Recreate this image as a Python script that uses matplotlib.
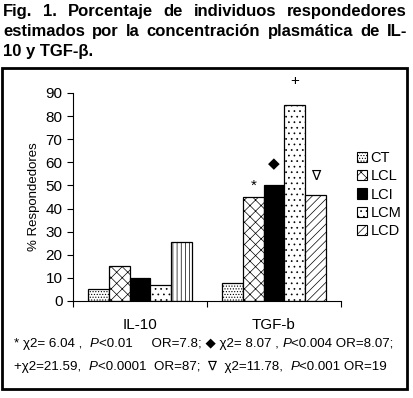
import matplotlib
matplotlib.use('Agg')
import matplotlib.pyplot as plt
from matplotlib.patches import Patch, Rectangle
import numpy as np

plt.rcParams['font.family'] = ['Liberation Sans', 'DejaVu Sans']
plt.rcParams['hatch.linewidth'] = 0.5

# data
groups = ['IL-10', 'TGF-b']
series = ['CT', 'LCL', 'LCI', 'LCM', 'LCD']
il10 = [5, 15, 10, 7, 25.5]
tgfb = [8, 45, 50, 85, 46]
hatches = ['......', 'xxx', None, '...', '////']
marks_tgf = ['', '*', '\u25c6', '+', '\u2207']
title_lines = ['Fig. 1. Porcentaje de individuos respondedores',
               'estimados por la concentraci\u00f3n plasm\u00e1tica de IL-',
               '10 y TGF-\u03b2.']
# footnote pieces, italic P drawn separately
foot_lines = [['* \u03c72= 6.04 ,  ', 'P', '<0.01     OR=7.8; \u25c6 \u03c72= 8.07 , ', 'P', '<0.004 OR=8.07;'],
              ['+\u03c72=21.59,  ', 'P', '<0.0001  OR=87;  \u2207  \u03c72=11.78,  ', 'P', '<0.001 OR=19']]

W, H = 413, 398
fig = plt.figure(figsize=(W / 100, H / 100), dpi=100)

def fx(px):
    return px / W

def fy(py):
    return 1 - py / H

renderer = fig.canvas.get_renderer()

# title, justified
for i, line in enumerate(title_lines):
    yb = fy(16 + 20 * i)
    if i == 2:
        fig.text(fx(3), yb, line, fontsize=12, fontweight='bold', va='baseline')
        continue
    words = line.split(' ')
    ts = [fig.text(0, yb, w, fontsize=12, fontweight='bold', va='baseline') for w in words]
    widths = [t.get_window_extent(renderer).width for t in ts]
    gap = (404 - sum(widths)) / (len(words) - 1)
    x = 3
    for t, w in zip(ts, widths):
        t.set_x(fx(x))
        x += w + gap

# frame box
fig.add_artist(Rectangle((fx(2), fy(389)), fx(407) - fx(2), fy(68) - fy(389),
                         transform=fig.transFigure, fill=False, lw=2, ec='black'))

ax = fig.add_axes([fx(73), fy(301), fx(341) - fx(73), fy(93) - fy(301)])
w = 0.155
for j, name in enumerate(series):
    xs = np.array([0.5, 1.5]) + (j - 2) * w
    vals = [il10[j], tgfb[j]]
    color = 'black' if name == 'LCI' else 'white'
    for k in range(2):
        h = hatches[j]
        if name == 'LCD' and k == 0:
            h = '||||'
        ax.bar(xs[k], vals[k], width=w, color=color, edgecolor='black', lw=0.9, hatch=h)

offs = [0, 5, 9, 10, 8]
sizes = [0, 11, 11, 11, 10]
for j in range(1, 5):
    xs = 1.5 + (j - 2) * w
    ax.text(xs, tgfb[j] + offs[j], marks_tgf[j], ha='center', va='center',
            fontsize=sizes[j], clip_on=False)

ax.set_xlim(0, 2)
ax.set_ylim(0, 90)
ax.set_yticks(range(0, 91, 10))
ax.set_xticks([0, 1, 2])
ax.set_xticklabels([])
ax.set_xticks([0.5, 1.5], minor=True)
ax.set_xticklabels(groups, minor=True, fontsize=11)
ax.tick_params(axis='x', which='minor', length=0, pad=12)
ax.tick_params(axis='both', which='major', direction='out', length=4, width=0.8, labelsize=11)
for s in ['top', 'right']:
    ax.spines[s].set_visible(False)
ax.set_ylabel('% Respondedores', fontsize=9.5, labelpad=4)
ax.set_facecolor('none')

handles = [Patch(facecolor='black' if s == 'LCI' else 'white', edgecolor='black',
                 hatch=h, lw=0.8) for s, h in zip(series, hatches)]
fig.legend(handles, series, loc='upper left', bbox_to_anchor=(fx(351), fy(145)),
           frameon=False, fontsize=10.5, handlelength=0.7, handleheight=0.7,
           handletextpad=0.25, labelspacing=0.3, borderaxespad=0)

for i, pieces in enumerate(foot_lines):
    x = 14
    for p in pieces:
        t = fig.text(fx(x), fy(347 + 23 * i), p, fontsize=9.6, va='baseline',
                     style='italic' if p == 'P' else 'normal')
        x += t.get_window_extent(renderer).width

fig.savefig('out.png', dpi=100)
